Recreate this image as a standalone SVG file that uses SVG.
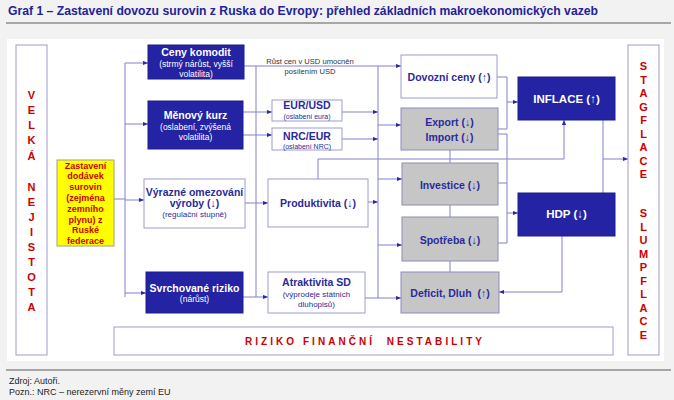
<svg xmlns="http://www.w3.org/2000/svg" width="674" height="400" viewBox="0 0 674 400">
<style>
text{font-family:"Liberation Sans",Arial,sans-serif}
.t{font-size:12px;font-weight:bold;fill:#22229a}
.foot{font-size:9px;fill:#222}
.blue{fill:#2323a3;stroke:#1c1c90;stroke-width:1}
.wbox{fill:#fff;stroke:#9c9cd0;stroke-width:1}
.gbox{fill:#c6c6c6;stroke:#8c8cc0;stroke-width:1}
.bt{font-size:10.5px;font-weight:bold;fill:#fff;text-anchor:middle}
.bs{font-size:8.5px;fill:#fff;text-anchor:middle}
.dt{font-size:10.5px;font-weight:bold;fill:#2a2a9c;text-anchor:middle}
.ds{font-size:8px;fill:#2a2a9c;text-anchor:middle}
.ds7{font-size:7px;fill:#2a2a9c;text-anchor:middle}
.red{font-size:11px;font-weight:bold;fill:#cc0000;text-anchor:middle}
.yt{font-size:9px;font-weight:bold;fill:#cc0000;text-anchor:middle}
.lab{font-size:7.6px;fill:#333;text-anchor:middle}
.c{fill:none;stroke:#8080cf;stroke-width:1}
.ca{fill:none;stroke:#8080cf;stroke-width:1;marker-end:url(#a)}
</style>
<defs>
<marker id="a" viewBox="0 0 6 6" refX="6" refY="3" markerWidth="5" markerHeight="5" orient="auto" markerUnits="userSpaceOnUse"><path d="M0,0.5 L6,3 L0,5.5z" fill="#2a2aa8"/></marker>
</defs>
<rect x="0" y="0" width="674" height="400" fill="#f2f2f2"/>
<text class="t" x="8" y="15" textLength="590" lengthAdjust="spacingAndGlyphs">Graf 1 – Zastavení dovozu surovin z Ruska do Evropy: přehled základních makroekonomických vazeb</text>
<line x1="6" y1="23" x2="671" y2="23" stroke="#8c8c8c" stroke-width="1.5"/>
<rect x="7" y="39" width="657" height="322" fill="#fff"/>
<line x1="6" y1="370" x2="671" y2="370" stroke="#8c8c8c" stroke-width="1.5"/>
<text class="foot" x="9" y="384">Zdroj: Autoři.</text>
<text class="foot" x="9" y="395">Pozn.: NRC – nerezervní měny zemí EU</text>

<g id="connectors">
<polyline class="c" points="114,199 125,199"/>
<line class="c" x1="125" y1="63" x2="125" y2="297"/>
<line class="ca" x1="125" y1="63" x2="148" y2="63"/>
<line class="ca" x1="125" y1="124" x2="148" y2="124"/>
<line class="ca" x1="125" y1="200" x2="144" y2="200"/>
<line class="ca" x1="125" y1="293" x2="146" y2="293"/>
<line class="ca" x1="244" y1="66" x2="401" y2="66"/>
<line class="c" x1="256" y1="66" x2="256" y2="297"/>
<line class="ca" x1="243" y1="112" x2="272" y2="112"/>
<line class="ca" x1="243" y1="135" x2="272" y2="135"/>
<line class="ca" x1="245" y1="203" x2="268" y2="203"/>
<line class="ca" x1="243" y1="297" x2="268" y2="297"/>
<line class="ca" x1="342" y1="112" x2="378" y2="112"/>
<line class="ca" x1="342" y1="139" x2="378" y2="139" stroke="#a8a8e0"/>
<line class="ca" x1="368" y1="202" x2="378" y2="202"/>
<line class="c" x1="378" y1="66" x2="378" y2="298"/>
<line class="ca" x1="378" y1="125" x2="401" y2="125"/>
<line class="ca" x1="378" y1="179" x2="402" y2="179"/>
<line class="ca" x1="378" y1="245" x2="402" y2="245"/>
<line class="ca" x1="365" y1="298" x2="401" y2="298"/>
<polyline class="ca" points="318,179 318,159 564,159 564,120"/>
<line class="c" x1="450" y1="150" x2="450" y2="163"/>
<line class="c" x1="450" y1="205" x2="450" y2="217"/>
<line class="c" x1="450" y1="261" x2="450" y2="272"/>
<polyline class="c" points="497,77 507,77 507,129 498,129"/>
<line class="ca" x1="507" y1="102" x2="518" y2="102"/>
<polyline class="c" points="498,134 507,134 507,243 498,243"/>
<line class="c" x1="498" y1="183" x2="507" y2="183"/>
<line class="ca" x1="507" y1="213" x2="518" y2="213"/>
<line class="c" x1="603" y1="120" x2="603" y2="193"/>
<line class="ca" x1="603" y1="159" x2="628" y2="159"/>
<polyline class="ca" points="562,236 562,292 499,292"/>
</g>

<g id="velka">
<rect class="wbox" x="16" y="45" width="31" height="310"/>
<text class="red" x="31.5" y="99">V</text>
<text class="red" x="31.5" y="114">E</text>
<text class="red" x="31.5" y="129">L</text>
<text class="red" x="31.5" y="144">K</text>
<text class="red" x="31.5" y="160">Á</text>
<text class="red" x="31.5" y="191">N</text>
<text class="red" x="31.5" y="206">E</text>
<text class="red" x="31.5" y="221">J</text>
<text class="red" x="31.5" y="236">I</text>
<text class="red" x="31.5" y="251">S</text>
<text class="red" x="31.5" y="266">T</text>
<text class="red" x="31.5" y="281">O</text>
<text class="red" x="31.5" y="296">T</text>
<text class="red" x="31.5" y="311">A</text>
</g>

<g id="zastaveni">
<rect x="57" y="160" width="57" height="86" fill="#ffff00" stroke="#a0a080"/>
<text class="yt" x="85.5" y="168.5">Zastavení</text>
<text class="yt" x="85.5" y="179.3">dodávek</text>
<text class="yt" x="85.5" y="190.1">surovin</text>
<text class="yt" x="85.5" y="200.9">(zejména</text>
<text class="yt" x="85.5" y="211.7">zemního</text>
<text class="yt" x="85.5" y="222.5">plynu) z</text>
<text class="yt" x="85.5" y="233.3">Ruské</text>
<text class="yt" x="85.5" y="244">federace</text>
</g>

<g id="ceny">
<rect class="blue" x="148" y="45" width="96" height="34"/>
<text class="bt" x="196" y="56">Ceny komodit</text>
<text class="bs" x="196" y="67">(strmý nárůst, vyšší</text>
<text class="bs" x="196" y="77">volatilita)</text>
</g>
<g id="menovy">
<rect class="blue" x="148" y="101" width="95" height="48"/>
<text class="bt" x="195.5" y="119">Měnový kurz</text>
<text class="bs" x="195.5" y="130">(oslabení, zvýšená</text>
<text class="bs" x="195.5" y="140">volatilita)</text>
</g>
<g id="vyrazne">
<rect class="wbox" x="144" y="179" width="101" height="49"/>
<text class="dt" x="194.5" y="196">Výrazné omezování</text>
<text class="dt" x="194.5" y="207">výroby (↓)</text>
<text class="ds" x="194.5" y="217">(regulační stupně)</text>
</g>
<g id="svrchovane">
<rect class="blue" x="146" y="272" width="97" height="41"/>
<text class="bt" x="194.5" y="292">Svrchované riziko</text>
<text class="bs" x="194.5" y="302">(nárůst)</text>
</g>

<g id="label-rust">
<text class="lab" x="310" y="63.5">Růst cen v USD umocněn</text>
<text class="lab" x="310" y="73.5">posílením USD</text>
</g>
<g id="eurusd">
<rect class="wbox" x="272" y="100" width="70" height="21"/>
<text class="dt" x="307" y="108.5">EUR/USD</text>
<text class="ds7" x="307" y="118.5">(oslabení eura)</text>
</g>
<g id="nrceur">
<rect class="wbox" x="272" y="128" width="70" height="22"/>
<text class="dt" x="307" y="140">NRC/EUR</text>
<text class="ds7" x="307" y="149">(oslabení NRC)</text>
</g>
<g id="produktivita">
<rect class="wbox" x="268" y="179" width="100" height="48"/>
<text class="dt" x="318" y="207">Produktivita (↓)</text>
</g>
<g id="atraktivita">
<rect class="wbox" x="268" y="272" width="97" height="41"/>
<text class="dt" x="316.5" y="286">Atraktivita SD</text>
<text class="ds" x="316.5" y="297">(výprodeje státních</text>
<text class="ds" x="316.5" y="307">dluhopisů)</text>
</g>

<g id="dovozni">
<rect class="wbox" x="401" y="55" width="96" height="43"/>
<text class="dt" x="449" y="81">Dovozní ceny (↑)</text>
</g>
<g id="export">
<rect class="gbox" x="401" y="108" width="97" height="42"/>
<text class="dt" x="449.5" y="126">Export (↓)</text>
<text class="dt" x="449.5" y="141">Import (↓)</text>
</g>
<g id="investice">
<rect class="gbox" x="402" y="163" width="96" height="42"/>
<text class="dt" x="450" y="189">Investice (↓)</text>
</g>
<g id="spotreba">
<rect class="gbox" x="402" y="217" width="96" height="44"/>
<text class="dt" x="450" y="244">Spotřeba (↓)</text>
</g>
<g id="deficit">
<rect class="gbox" x="401" y="272" width="98" height="41"/>
<text class="dt" x="450" y="297" xml:space="preserve">Deficit, Dluh  (↑)</text>
</g>
<g id="inflace">
<rect class="blue" x="518" y="77" width="97" height="43"/>
<text class="bt" x="566.5" y="102.5" style="font-size:11.5px">INFLACE (↑)</text>
</g>
<g id="hdp">
<rect class="blue" x="518" y="193" width="97" height="43"/>
<text class="bt" x="566.5" y="218" style="font-size:11.5px">HDP (↓)</text>
</g>

<g id="stagflace">
<rect class="wbox" x="628" y="45" width="31" height="310"/>
<text class="red" x="643.5" y="70">S</text>
<text class="red" x="643.5" y="83.5">T</text>
<text class="red" x="643.5" y="97">A</text>
<text class="red" x="643.5" y="110.5">G</text>
<text class="red" x="643.5" y="124">F</text>
<text class="red" x="643.5" y="137.5">L</text>
<text class="red" x="643.5" y="151">A</text>
<text class="red" x="643.5" y="164.5">C</text>
<text class="red" x="643.5" y="178">E</text>
<text class="red" x="643.5" y="217">S</text>
<text class="red" x="643.5" y="230.5">L</text>
<text class="red" x="643.5" y="244">U</text>
<text class="red" x="643.5" y="257.5">M</text>
<text class="red" x="643.5" y="271">P</text>
<text class="red" x="643.5" y="284.5">F</text>
<text class="red" x="643.5" y="298">L</text>
<text class="red" x="643.5" y="311.5">A</text>
<text class="red" x="643.5" y="325">C</text>
<text class="red" x="643.5" y="338.5">E</text>
</g>

<g id="riziko">
<rect class="wbox" x="114" y="327" width="499" height="28"/>
<text x="245" y="345" style="font-size:10px;font-weight:bold;fill:#cc0000" textLength="237" lengthAdjust="spacing" xml:space="preserve">RIZIKO FINANČNÍ  NESTABILITY</text>
</g>
</svg>
